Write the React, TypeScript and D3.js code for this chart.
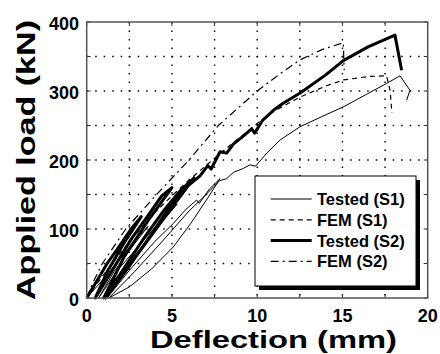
import React from "react";
import * as d3 from "d3";

// deflection (mm), load (kN) pairs
const testedS1: [number, number][] = [
  [0, 0], [1, 28], [2, 58], [3, 88], [3.6, 104], [2.6, 72], [1.6, 38], [0.7, 0],
  [1.8, 40], [3, 74], [4.2, 108], [5.3, 136], [4, 98], [2.6, 55], [1.2, 0],
  [2.5, 40], [4, 82], [5.08, 108], [5.8, 128], [6.45, 142], [6.6, 137], [7.2, 158],
  [7.82, 173], [7.1, 145], [6.1, 108], [5.08, 74], [3.8, 42], [2.5, 16], [1.3, 0],
  [2.8, 38], [4.5, 84], [6, 126], [7, 150], [7.8, 170], [8.21, 173], [8.6, 182],
  [9.2, 188], [9.58, 193], [9.9, 191], [10.56, 210], [11.34, 229], [12.5, 248],
  [13.8, 263], [15.05, 277], [16.4, 295], [17.59, 311], [18.38, 322], [18.96, 301], [18.77, 287],
];

const femS1: [number, number][] = [
  [0, 0], [1, 34], [2, 66], [3, 96], [4, 124], [5, 148], [6, 171], [7, 192],
  [8, 213], [9, 233], [10, 253], [11, 271], [12.5, 291], [14, 307], [15.05, 316],
  [16.5, 321], [17.59, 322], [17.8, 300], [17.9, 268],
];

const testedS2: [number, number][] = [
  [0, 0], [0.6, 25], [1.2, 50], [2, 78], [2.6, 100], [3.2, 118], [2.2, 80], [1.2, 38], [0.5, 0],
  [1.5, 40], [2.6, 85], [3.5, 116], [4.4, 148], [5, 160], [3.6, 112], [2.2, 60], [1.0, 0],
  [2, 36], [3.5, 92], [4.5, 126], [5.5, 156], [6.3, 174], [4.6, 118], [2.7, 54], [1.1, 0],
  [2.5, 46], [4, 100], [5, 136], [5.67, 157], [6.65, 177], [7.1, 192], [7.3, 187],
  [7.82, 212], [8.21, 210], [8.6, 223], [9.2, 235], [9.68, 245], [9.85, 239],
  [10.3, 257], [10.95, 272], [11.5, 282], [12.52, 297], [14, 323], [15.05, 344],
  [16.5, 364], [18.08, 381], [18.47, 330],
];

const femS2: [number, number][] = [
  [0, 0], [0.4, 24], [0.92, 50], [2.29, 100], [4.1, 150], [6, 200], [7.72, 250],
  [10, 300], [11.34, 325], [12.5, 345], [13.8, 360], [15.05, 370], [15.1, 330],
];

const xTicks = [0, 5, 10, 15, 20];
const yTicks = [0, 100, 200, 300, 400];
const xGrid = [2.5, 5, 7.5, 10, 12.5, 15, 17.5];
const yGrid = [50, 100, 150, 200, 250, 300, 350];

const legendItems = [
  { label: "Tested (S1)", width: 1, dash: "none" },
  { label: "FEM (S1)", width: 1.2, dash: "5,4" },
  { label: "Tested (S2)", width: 3, dash: "none" },
  { label: "FEM (S2)", width: 1.2, dash: "8,4,2,4" },
];

const font = "'Liberation Sans', Arial, sans-serif";

export default function App() {
  const left = 86.7, right = 427.7, top = 22, bottom = 298;
  const x = d3.scaleLinear().domain([0, 20]).range([left, right]);
  const y = d3.scaleLinear().domain([0, 400]).range([bottom, top]);
  const line = d3.line<[number, number]>().x((d) => x(d[0])).y((d) => y(d[1]));

  const series = [
    { data: testedS1, width: 1, dash: "none" },
    { data: femS1, width: 1.2, dash: "5,4" },
    { data: testedS2, width: 3, dash: "none" },
    { data: femS2, width: 1.2, dash: "8,4,2,4" },
  ];

  const lx = 255, ly = 176, lw = 161, lh = 110;

  return (
    <svg width={440} height={354} style={{ position: "absolute", left: 0, top: 0, background: "#fff" }}>
      <rect x={0} y={0} width={440} height={354} fill="#fff" />
      {/* grid */}
      {xGrid.map((g) => (
        <line key={"gx" + g} x1={x(g)} x2={x(g)} y1={top} y2={bottom}
          stroke="#000" strokeWidth={1.4} strokeDasharray="1.5,7" />
      ))}
      {yGrid.map((g) => (
        <line key={"gy" + g} x1={left} x2={right} y1={y(g)} y2={y(g)}
          stroke="#000" strokeWidth={1.4} strokeDasharray="1.5,7" />
      ))}
      {/* ticks */}
      {[0, ...xGrid, 20].map((g) => (
        <g key={"tx" + g}>
          <line x1={x(g)} x2={x(g)} y1={bottom} y2={bottom - 4} stroke="#333" />
          <line x1={x(g)} x2={x(g)} y1={top} y2={top + 4} stroke="#333" />
        </g>
      ))}
      {[0, ...yGrid, 400].map((g) => (
        <g key={"ty" + g}>
          <line x1={left} x2={left + 4} y1={y(g)} y2={y(g)} stroke="#333" />
          <line x1={right} x2={right - 4} y1={y(g)} y2={y(g)} stroke="#333" />
        </g>
      ))}
      {/* data */}
      {series.map((s, i) => (
        <path key={i} d={line(s.data) || ""} fill="none" stroke="#000"
          strokeWidth={s.width} strokeDasharray={s.dash} strokeLinejoin="round" />
      ))}
      {/* frame */}
      <rect x={left} y={top} width={right - left} height={bottom - top}
        fill="none" stroke="#555" strokeWidth={1.5} />
      {/* tick labels */}
      {xTicks.map((t) => (
        <text key={"lx" + t} x={x(t)} y={322} textAnchor="middle"
          fontFamily={font} fontWeight="bold" fontSize={18}>{t}</text>
      ))}
      {yTicks.map((t) => (
        <text key={"ly" + t} x={79} y={y(t) + 8} textAnchor="end"
          fontFamily={font} fontWeight="bold" fontSize={18}>{t}</text>
      ))}
      {/* axis labels */}
      <text x={273.5} y={348} textAnchor="middle" fontFamily={font} fontWeight="bold"
        fontSize={24} textLength={247} lengthAdjust="spacingAndGlyphs">Deflection (mm)</text>
      <text transform="translate(35,160) rotate(-90)" textAnchor="middle" fontFamily={font}
        fontWeight="bold" fontSize={26} textLength={280} lengthAdjust="spacingAndGlyphs">Applied load (kN)</text>
      {/* legend */}
      <rect x={lx + 4} y={ly + 4} width={lw} height={lh} fill="#000" />
      <rect x={lx} y={ly} width={lw} height={lh} fill="#fff" stroke="#000" strokeWidth={1} />
      {legendItems.map((it, i) => {
        const yy = 199 + i * 20.8;
        return (
          <g key={it.label}>
            <line x1={270.7} x2={311.7} y1={yy} y2={yy} stroke="#000"
              strokeWidth={it.width} strokeDasharray={it.dash} />
            <text x={317} y={yy + 6} fontFamily={font} fontWeight="bold" fontSize={16.5}>{it.label}</text>
          </g>
        );
      })}
    </svg>
  );
}
